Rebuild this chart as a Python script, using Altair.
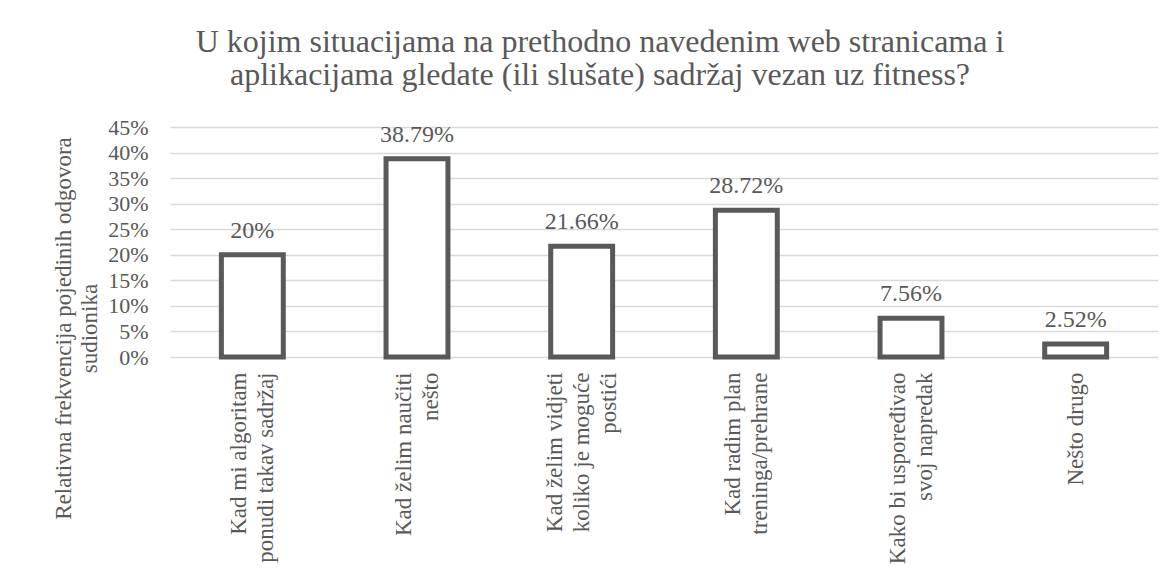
import altair as alt
import pandas as pd

# ---- data ----
categories = [
    "Kad mi algoritam\nponudi takav sadržaj",
    "Kad želim naučiti\nnešto",
    "Kad želim vidjeti\nkoliko je moguće\npostići",
    "Kad radim plan\ntreninga/prehrane",
    "Kako bi uspoređivao\nsvoj napredak",
    "Nešto drugo",
]
shares = [0.20, 0.3879, 0.2166, 0.2872, 0.0756, 0.0252]
y_ticks = [0, 0.05, 0.10, 0.15, 0.20, 0.25, 0.30, 0.35, 0.40, 0.45]
title_lines = [
    "U kojim situacijama na prethodno navedenim web stranicama i",
    "aplikacijama gledate (ili slušate) sadržaj vezan uz fitness?",
]
y_title = ["Relativna frekvencija pojedinih odgovora", "sudionika"]

GREY = "#595959"
GRID = "#d9d9d9"
FONT = "Liberation Serif"
LINE_H = 27

# approximate Times glyph widths (1/1000 em), used only to centre wrapped label lines
_W = dict(a=444, b=500, c=444, d=500, e=444, f=333, g=500, h=500, i=278, j=278, k=500,
          l=278, m=778, n=500, o=500, p=500, q=500, r=333, s=389, t=278, u=500, v=500,
          w=722, x=500, y=500, z=444)
_W.update({"ž": 444, "š": 389, "č": 444, "ć": 444, "đ": 500, "K": 722, "N": 722,
           " ": 250, "/": 278})


def _width(s):
    return sum(_W.get(ch, 500) for ch in s)


def centred(label):
    lines = label.split("\n")
    w = max(_width(l) for l in lines)
    return "\n".join(l + "\u00a0" * round((w - _width(l)) / 2 / 250) for l in lines)


df = pd.DataFrame({"cat": [centred(c) for c in categories], "share": shares})

n_lines = "length(split(datum.value, '\\n'))"
label_offset = {
    "condition": [
        {"test": f"{n_lines} == 2", "value": -LINE_H / 2},
        {"test": f"{n_lines} == 3", "value": -LINE_H},
    ],
    "value": 0,
}

base = alt.Chart(df).encode(
    x=alt.X(
        "cat:N",
        sort=None,
        scale=alt.Scale(paddingInner=0.624, paddingOuter=0.312),
        axis=alt.Axis(
            title=None,
            labelAngle=-90,
            labelExpr="split(datum.label, '\\n')",
            labelFont=FONT,
            labelFontSize=23,
            labelLineHeight=LINE_H,
            labelColor=GREY,
            labelPadding=15,
            labelOffset=label_offset,
            labelLimit=400,
            labelOverlap=False,
            ticks=False,
            tickSize=0,
            domain=False,
            grid=False,
        ),
    ),
    y=alt.Y(
        "share:Q",
        scale=alt.Scale(domain=[0, 0.45], nice=False),
        axis=alt.Axis(
            values=y_ticks,
            format=".0%",
            labelFont=FONT,
            labelFontSize=22,
            labelColor=GREY,
            labelPadding=22,
            ticks=False,
            tickSize=0,
            domain=False,
            gridColor=GRID,
            gridWidth=1.5,
            title=y_title,
            titleFont=FONT,
            titleFontSize=23,
            titleFontWeight="normal",
            titleColor=GREY,
            titleLineHeight=26,
            titleY=201,
            titlePadding=6,
        ),
    ),
)

bars = base.mark_bar(fill="white", stroke=GREY, strokeWidth=5)
labels = base.mark_text(
    dy=-17, baseline="alphabetic", fontSize=24, color=GREY, font=FONT
).encode(text=alt.Text("share:Q", format=".2~%"))

chart = (
    alt.layer(bars, labels)
    .properties(
        width=988,
        height=230,
        autosize=alt.AutoSizeParams(type="none"),
        padding={"left": 162, "top": 119, "right": 8, "bottom": 218},
        title=alt.Title(
            title_lines,
            font=FONT,
            fontSize=32,
            lineHeight=33,
            color=GREY,
            fontWeight="normal",
            anchor="middle",
            frame="group",
            dx=-64,
            offset=24,
        ),
    )
    .configure(font=FONT)
    .configure_view(stroke=None)
)

chart.save("out.html", embed_options={"renderer": "svg", "actions": False})
